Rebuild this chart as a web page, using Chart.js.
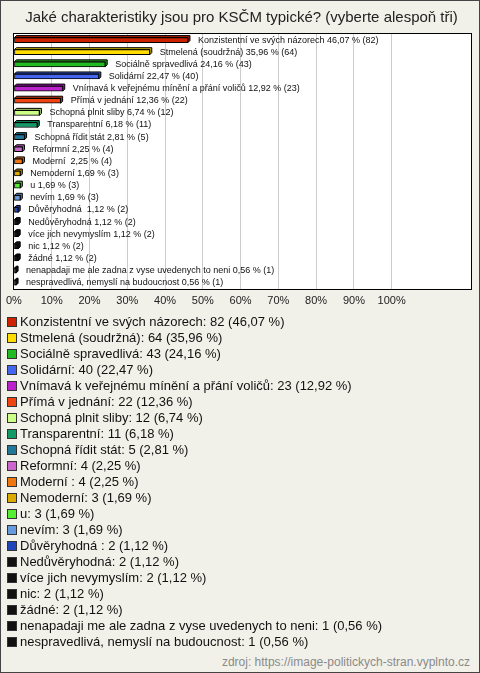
<!DOCTYPE html>
<html>
<head>
<meta charset="utf-8">
<script src="https://cdn.jsdelivr.net/npm/chart.js@4/dist/chart.umd.min.js"></script>
<style>
  html, body { margin: 0; padding: 0; background: #f2f1e9; }
  #frame { position: relative; width: 480px; height: 673px; box-sizing: border-box; border: 1px solid #444; background: #f2f1e9; overflow: hidden; font-family: "Liberation Sans", Arial, sans-serif; }
  #chartBox { position: absolute; left: -1px; top: -1px; width: 480px; height: 317px; }
  #legend { position: absolute; left: 6px; top: 313px; font-size: 13px; color: #111; }
  .row { height: 16px; line-height: 16px; white-space: nowrap; display: flex; align-items: center; }
  .sq { display: inline-block; width: 8px; height: 8px; border: 1px solid #333; margin-right: 3px; flex: none; }
  #source { position: absolute; right: 9px; top: 654px; font-size: 12px; color: #8a8a8a; }
</style>
</head>
<body>
<div id="frame">
  <div id="chartBox"><canvas id="c"></canvas></div>
  <div id="legend"></div>
  <div id="source">zdroj: https://image-politickych-stran.vyplnto.cz</div>
</div>
<script>
const titleText = 'Jaké charakteristiky jsou pro KSČM typické? (vyberte alespoň tři)';
const categories = [
  'Konzistentní ve svých názorech', 'Stmelená (soudržná)', 'Sociálně spravedlivá', 'Solidární',
  'Vnímavá k veřejnému mínění a přání voličů', 'Přímá v jednání', 'Schopná plnit sliby', 'Transparentní',
  'Schopná řídit stát', 'Reformní', 'Moderní ', 'Nemoderní', 'u', 'nevím', 'Důvěryhodná ',
  'Nedůvěryhodná', 'více jich nevymyslím', 'nic', 'žádné',
  'nenapadaji me ale zadna z vyse uvedenych to neni', 'nespravedlivá, nemyslí na budoucnost'
];
const counts = [82, 64, 43, 40, 23, 22, 12, 11, 5, 4, 4, 3, 3, 3, 2, 2, 2, 2, 2, 1, 1];
const percents = [46.07, 35.96, 24.16, 22.47, 12.92, 12.36, 6.74, 6.18, 2.81, 2.25, 2.25, 1.69, 1.69, 1.69, 1.12, 1.12, 1.12, 1.12, 1.12, 0.56, 0.56];
const colors = ['#cc2200', '#ffdd00', '#22bb22', '#4466ee', '#bb22cc', '#ee4411', '#ccff88', '#119966',
  '#227799', '#cc66cc', '#ee7711', '#ddaa00', '#55ee33', '#6699dd', '#2244bb',
  '#111111', '#111111', '#111111', '#111111', '#111111', '#111111'];
const tickValues = [0, 10, 20, 30, 40, 50, 60, 70, 80, 90, 100];

function fmt(v) { return v.toFixed(2).replace('.', ','); }

// HTML legend
const legend = document.getElementById('legend');
categories.forEach((c, i) => {
  const row = document.createElement('div');
  row.className = 'row';
  const sq = document.createElement('span');
  sq.className = 'sq';
  sq.style.background = colors[i];
  row.appendChild(sq);
  const t = document.createElement('span');
  t.textContent = c + ': ' + counts[i] + ' (' + fmt(percents[i]) + ' %)';
  row.appendChild(t);
  legend.appendChild(row);
});

function shade(hex, f) {
  const n = parseInt(hex.slice(1), 16);
  const r = Math.round(((n >> 16) & 255) * f), g = Math.round(((n >> 8) & 255) * f), b = Math.round((n & 255) * f);
  return 'rgb(' + r + ',' + g + ',' + b + ')';
}

const plotFrame = {
  id: 'plotFrame',
  beforeDraw(chart) {
    const a = chart.chartArea, ctx = chart.ctx;
    ctx.save();
    ctx.fillStyle = '#ffffff';
    ctx.fillRect(a.left, a.top, a.right - a.left, a.bottom - a.top);
    ctx.restore();
  },
  afterDraw(chart) {
    const a = chart.chartArea, ctx = chart.ctx;
    ctx.save();
    ctx.strokeStyle = '#000';
    ctx.lineWidth = 1;
    ctx.strokeRect(Math.round(a.left) - 0.5, Math.round(a.top) - 0.5, Math.round(a.right - a.left) + 1, Math.round(a.bottom - a.top) + 1);
    ctx.restore();
  }
};

const bar3d = {
  id: 'bar3d',
  beforeDatasetsDraw(chart) {
    const ctx = chart.ctx, d = 2;
    const meta = chart.getDatasetMeta(0);
    ctx.save();
    ctx.lineWidth = 1;
    ctx.strokeStyle = '#000';
    meta.data.forEach((el, i) => {
      const p = el.getProps(['x', 'y', 'base', 'height'], true);
      const x0 = p.base, x1 = p.x, yt = p.y - p.height / 2, yb = p.y + p.height / 2;
      ctx.fillStyle = shade(colors[i], 0.8);
      ctx.beginPath();
      ctx.moveTo(x0, yt); ctx.lineTo(x0 + d, yt - d); ctx.lineTo(x1 + d, yt - d);
      ctx.lineTo(x1 + d, yb - d); ctx.lineTo(x1, yb); ctx.lineTo(x1, yt); ctx.closePath();
      ctx.fill(); ctx.stroke();
    });
    ctx.restore();
  },
  afterDatasetsDraw(chart) {
    const ctx = chart.ctx;
    const meta = chart.getDatasetMeta(0);
    ctx.save();
    ctx.font = '9px "Liberation Sans", Arial, sans-serif';
    ctx.fillStyle = '#111';
    ctx.textBaseline = 'middle';
    ctx.textAlign = 'left';
    meta.data.forEach((el, i) => {
      const p = el.getProps(['x', 'y'], true);
      ctx.fillText(categories[i] + ' ' + fmt(percents[i]) + ' % (' + counts[i] + ')', p.x + 10, p.y);
    });
    ctx.restore();
  }
};

new Chart(document.getElementById('c'), {
  type: 'bar',
  data: {
    labels: categories,
    datasets: [{
      data: percents,
      backgroundColor: colors,
      borderColor: '#000',
      borderWidth: 1,
      borderSkipped: false,
      barThickness: 5
    }]
  },
  options: {
    indexAxis: 'y',
    responsive: true,
    maintainAspectRatio: false,
    animation: false,
    layout: { padding: { left: 12, right: 9, top: 0, bottom: 3 } },
    plugins: {
      legend: { display: false },
      tooltip: { enabled: false },
      title: {
        display: true,
        text: titleText,
        color: '#222',
        font: { family: '"Liberation Sans", Arial, sans-serif', size: 15, weight: 'normal' },
        padding: { top: 9, bottom: 7 }
      }
    },
    scales: {
      x: {
        min: 0,
        max: 121,
        afterBuildTicks(scale) { scale.ticks = tickValues.map(v => ({ value: v })); },
        grid: { color: '#cccccc', drawTicks: false },
        border: { display: false },
        ticks: {
          padding: 6,
          color: '#222',
          font: { family: '"Liberation Sans", Arial, sans-serif', size: 11 },
          callback: v => v + '%',
          maxRotation: 0,
          autoSkip: false
        }
      },
      y: {
        display: false,
        grid: { display: false }
      }
    }
  },
  plugins: [plotFrame, bar3d]
});
</script>
</body>
</html>
